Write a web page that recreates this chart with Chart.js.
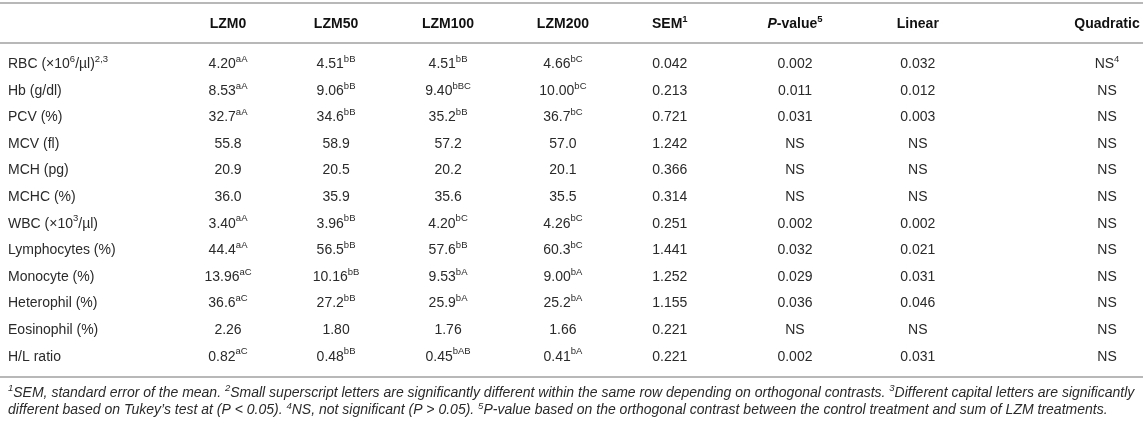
<!DOCTYPE html>
<html lang="en">
<head>
    <meta charset="UTF-8">
    <title>Haematological parameters - LZM</title>
    <script src="https://cdn.jsdelivr.net/npm/chart.js"></script>
    <style>
        html, body { margin: 0; padding: 0; background: #fff; }
        #wrap { width: 1143px; height: 428px; position: relative; }
    </style>
</head>
<body>
<div id="wrap"><canvas id="tabela"></canvas></div>

<script>
    // ^{..} = superscript, *..* = italic
    const rows = ['RBC (×10^{6}/µl)^{2,3}', 'Hb (g/dl)', 'PCV (%)', 'MCV (fl)', 'MCH (pg)', 'MCHC (%)',
        'WBC (×10^{3}/µl)', 'Lymphocytes (%)', 'Monocyte (%)', 'Heterophil (%)', 'Eosinophil (%)', 'H/L ratio'];
    const headers = ['LZM0', 'LZM50', 'LZM100', 'LZM200', 'SEM^{1}', '*P*-value^{5}', 'Linear', 'Quadratic'];
    const decimals = [2, 2, 1, 1, 1, 1, 2, 1, 2, 1, 2, 2];

    const lzm0 = [4.20, 8.53, 32.7, 55.8, 20.9, 36.0, 3.40, 44.4, 13.96, 36.6, 2.26, 0.82];
    const lzm0Sup = ['aA', 'aA', 'aA', '', '', '', 'aA', 'aA', 'aC', 'aC', '', 'aC'];
    const lzm50 = [4.51, 9.06, 34.6, 58.9, 20.5, 35.9, 3.96, 56.5, 10.16, 27.2, 1.80, 0.48];
    const lzm50Sup = ['bB', 'bB', 'bB', '', '', '', 'bB', 'bB', 'bB', 'bB', '', 'bB'];
    const lzm100 = [4.51, 9.40, 35.2, 57.2, 20.2, 35.6, 4.20, 57.6, 9.53, 25.9, 1.76, 0.45];
    const lzm100Sup = ['bB', 'bBC', 'bB', '', '', '', 'bC', 'bB', 'bA', 'bA', '', 'bAB'];
    const lzm200 = [4.66, 10.00, 36.7, 57.0, 20.1, 35.5, 4.26, 60.3, 9.00, 25.2, 1.66, 0.41];
    const lzm200Sup = ['bC', 'bC', 'bC', '', '', '', 'bC', 'bC', 'bA', 'bA', '', 'bA'];
    const sem = [0.042, 0.213, 0.721, 1.242, 0.366, 0.314, 0.251, 1.441, 1.252, 1.155, 0.221, 0.221];
    // null = NS (not significant)
    const pValue = [0.002, 0.011, 0.031, null, null, null, 0.002, 0.032, 0.029, 0.036, null, 0.002];
    const linear = [0.032, 0.012, 0.003, null, null, null, 0.002, 0.021, 0.031, 0.046, null, 0.031];
    const quadratic = [null, null, null, null, null, null, null, null, null, null, null, null];
    const quadraticSup = ['4', '', '', '', '', '', '', '', '', '', '', ''];

    const footnotes = [
        '^{1}SEM, standard error of the mean. ^{2}Small superscript letters are significantly different within the same row depending on orthogonal contrasts. ^{3}Different capital letters are significantly',
        'different based on Tukey\u2019s test at (P < 0.05). ^{4}NS, not significant (P > 0.05). ^{5}P-value based on the orthogonal contrast between the control treatment and sum of LZM treatments.'
    ];

    // layout: column centres on a 0-100 scale across the page
    const labelPos = 0.7;
    const colPos = [19.95, 29.4, 39.2, 49.25, 58.6, 69.55, 80.3, 96.85];
    const FONT = '"Liberation Sans", Arial, sans-serif';

    // monta as colunas (valor formatado + letras sobrescritas)
    const fmt = (v, d) => v === null ? 'NS' : v.toFixed(d);
    const columns = [
        lzm0.map((v, i) => fmt(v, decimals[i]) + (lzm0Sup[i] ? '^{' + lzm0Sup[i] + '}' : '')),
        lzm50.map((v, i) => fmt(v, decimals[i]) + (lzm50Sup[i] ? '^{' + lzm50Sup[i] + '}' : '')),
        lzm100.map((v, i) => fmt(v, decimals[i]) + (lzm100Sup[i] ? '^{' + lzm100Sup[i] + '}' : '')),
        lzm200.map((v, i) => fmt(v, decimals[i]) + (lzm200Sup[i] ? '^{' + lzm200Sup[i] + '}' : '')),
        sem.map(v => fmt(v, 3)),
        pValue.map(v => fmt(v, 3)),
        linear.map(v => fmt(v, 3)),
        quadratic.map((v, i) => fmt(v, 3) + (quadraticSup[i] ? '^{' + quadraticSup[i] + '}' : ''))
    ];

    // parse the tiny markup into segments
    function parse(str) {
        const segs = [];
        let italic = false, buf = '', i = 0;
        const push = (sup) => { if (buf) segs.push({ t: buf, sup: sup, it: italic }); buf = ''; };
        while (i < str.length) {
            const c = str[i];
            if (c === '^' && str[i + 1] === '{') {
                push(false);
                const end = str.indexOf('}', i);
                buf = str.slice(i + 2, end);
                push(true);
                i = end + 1;
            } else if (c === '*') {
                push(false);
                italic = !italic;
                i++;
            } else {
                buf += c;
                i++;
            }
        }
        push(false);
        return segs;
    }

    function drawRich(ctx, str, x, y, align, o) {
        const segs = parse(str);
        const fontOf = s => (o.italic || s.it ? 'italic ' : '') + (o.weight || 'normal') + ' ' +
            (s.sup ? o.supSize : o.size) + 'px ' + FONT;
        let total = 0;
        segs.forEach(s => { ctx.font = fontOf(s); s.w = ctx.measureText(s.t).width; total += s.w; });
        let cx = align === 'center' ? x - total / 2 : x;
        ctx.textBaseline = 'middle';
        ctx.textAlign = 'left';
        ctx.fillStyle = o.color;
        segs.forEach(s => {
            ctx.font = fontOf(s);
            ctx.fillText(s.t, cx, s.sup ? y - o.rise : y);
            cx += s.w;
        });
    }

    const tablePlugin = {
        id: 'tabela',
        afterDatasetsDraw(chart) {
            const ctx = chart.ctx;
            const area = chart.chartArea;
            const xs = chart.scales.x, ys = chart.scales.y;
            ctx.save();

            // regras horizontais
            ctx.strokeStyle = '#b8b8b8';
            ctx.lineWidth = 2;
            [area.top - 48, area.top - 8, area.bottom + 7].forEach(y => {
                ctx.beginPath();
                ctx.moveTo(0, y);
                ctx.lineTo(chart.width, y);
                ctx.stroke();
            });

            // cabeçalho
            headers.forEach((h, j) => {
                drawRich(ctx, h, xs.getPixelForValue(colPos[j]), area.top - 27, 'center',
                    { size: 14, supSize: 9.5, rise: 5, weight: 'bold', color: '#111' });
            });

            // rótulos das linhas
            rows.forEach((r, i) => {
                drawRich(ctx, r, xs.getPixelForValue(labelPos), ys.getPixelForValue(i), 'left',
                    { size: 14, supSize: 9.5, rise: 5, color: '#2a2a2a' });
            });

            // células, posicionadas pelos pontos do gráfico
            chart.data.datasets.forEach((ds, j) => {
                chart.getDatasetMeta(j).data.forEach((pt, i) => {
                    drawRich(ctx, ds.data[i].text, pt.x, pt.y, 'center',
                        { size: 14, supSize: 9.5, rise: 5, color: '#2a2a2a' });
                });
            });

            // notas de rodapé
            footnotes.forEach((f, k) => {
                drawRich(ctx, f, xs.getPixelForValue(labelPos), area.bottom + 23 + k * 17.5, 'left',
                    { size: 14, supSize: 9.5, rise: 4.5, italic: true, color: '#2a2a2a' });
            });
            ctx.restore();
        }
    };

    new Chart(document.getElementById('tabela'), {
        type: 'scatter',
        data: {
            datasets: columns.map((col, j) => ({
                label: headers[j],
                data: col.map((text, i) => ({ x: colPos[j], y: rows[i], text: text })),
                pointRadius: 0,
                pointHoverRadius: 0
            }))
        },
        options: {
            responsive: true,
            maintainAspectRatio: false,
            animation: false,
            events: [],
            layout: { padding: { top: 51, bottom: 58, left: 0, right: 0 } },
            plugins: { legend: { display: false }, tooltip: { enabled: false } },
            scales: {
                x: { type: 'linear', min: 0, max: 100, display: false },
                y: { type: 'category', labels: rows, offset: true, display: false }
            }
        },
        plugins: [tablePlugin]
    });
</script>
</body>
</html>
